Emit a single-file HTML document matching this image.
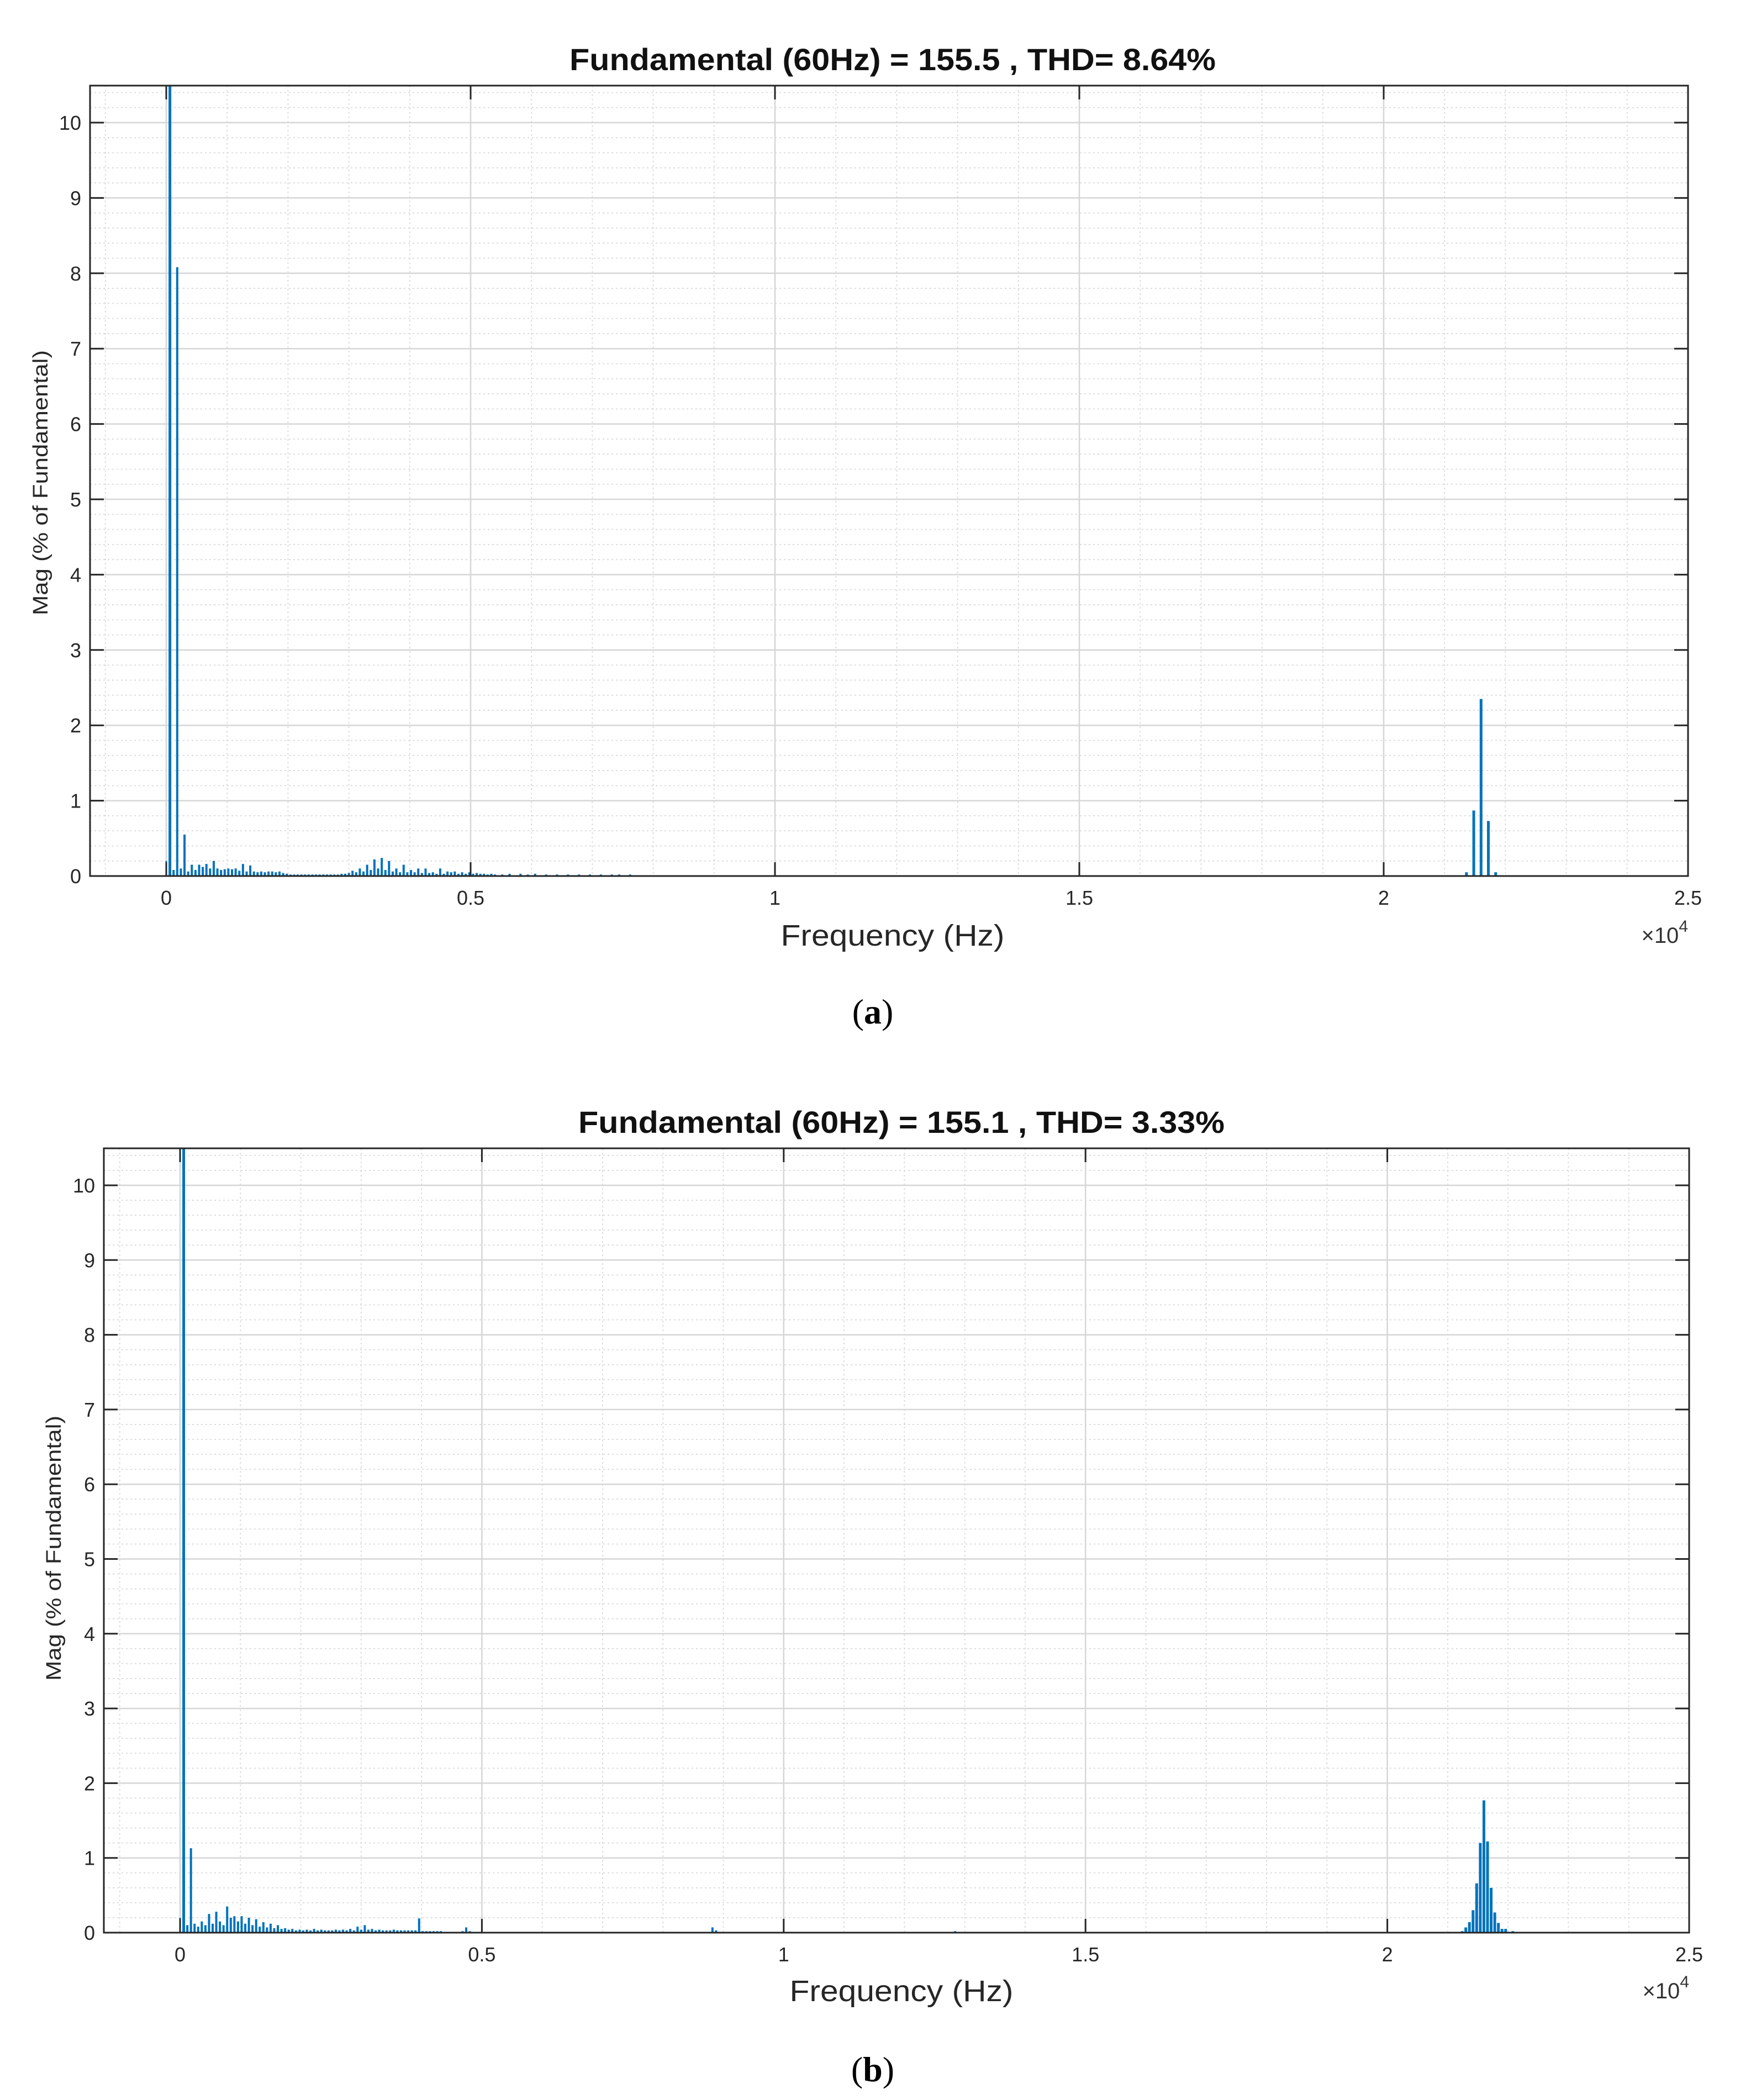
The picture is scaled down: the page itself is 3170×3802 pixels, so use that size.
<!DOCTYPE html>
<html><head><meta charset="utf-8"><style>
html,body{margin:0;padding:0;background:#fff;}
svg{display:block;}
text{font-family:"Liberation Sans",Arial,sans-serif;}
</style></head><body>
<svg id="fig" width="3170" height="3802" viewBox="0 0 3170 3802" xmlns="http://www.w3.org/2000/svg"></svg>
<script>
// ---- data: panel (a) ----
const harmonicMagsA = [100,0.08,8.08,0.1,0.55,0.06,0.15,0.08,0.15,0.12,0.16,0.1,0.2,0.1,0.08,0.09,0.1,0.09,0.1,0.07,0.16,0.06,0.14,0.06,0.05,0.06,0.05,0.06,0.06,0.05,0.06,0.04,0.03,
0.02,0.02,0.02,0.02,0.02,0.02,0.02,0.02,0.02,0.02,0.02,0.02,0.02,0.02,0.03,0.03,0.04,
0.07,0.05,0.1,0.06,0.15,0.08,0.22,0.1,0.24,0.08,0.2,0.06,0.1,0.05,0.15,0.05,0.08,0.05,0.1,0.04,0.1,0.04,0.05,0.03,0.1,0.03,0.06,0.05,0.06,0.03,0.05,0.03,0.05,0.03,0.04,0.03,0.03,0.02,0.03,0.02,
0.01,0.02,0.01,0.03,0.01,0.01,0.03,0.01,0.02,0.01,0.03,0.01,0.01,0.02,0.01,0.01,0.02,0.01,0.01,0.02,0.01,0.01,0.02,0.01,0.01,0.02,0.01,0.01,0.02,0.01,0.01,0.02,0.01,0.02,0.01,0.01,0.02,0.01,0.01,0.01,0.01,0.01,0.01,0.01,0.01];
const dcMagA = 0.2;
const sideFreqsA = [21360,21480,21600,21720,21840];
const sideMagsA = [0.05,0.87,2.35,0.73,0.05];
// ---- data: panel (b) ----
const harmonicMagsB = [100,0.1,1.13,0.12,0.08,0.15,0.1,0.25,0.12,0.28,0.15,0.1,0.35,0.2,0.22,0.15,0.22,0.12,0.2,0.1,0.18,0.08,0.14,0.07,0.12,0.06,0.1,0.05,0.06,0.04,0.05,0.03,0.04,0.03,0.04,0.03,0.05,0.03,0.04,0.03,0.03,0.03,0.04,0.03,0.04,0.03,0.05,0.03,0.08,0.04,0.1,0.04,0.05,0.03,0.04,0.03,0.03,0.03,0.04,0.03,0.03,0.03,0.03,0.03,0.03,0.19,0.02,0.02,0.02,0.02,0.02,0.02,0,0,0.01,0.01,0,0.02,0.07,0.02];
const dcMagB = 0.2;
const extraFreqsB = [8820,8880,12840];
const extraMagsB = [0.07,0.03,0.02];
const sideFreqsB = [21240,21300,21360,21420,21480,21540,21600,21660,21720,21780,21840,21900,21960,22080];
const sideMagsB = [0.02,0.07,0.14,0.3,0.66,1.2,1.77,1.22,0.6,0.27,0.13,0.05,0.05,0.02];
// ---- axis ticks ----
const xTickVals = [0,5000,10000,15000,20000,25000];
const xTickLabels = ["0","0.5","1","1.5","2","2.5"];
const yTickVals = [0,1,2,3,4,5,6,7,8,9,10];
const titleA = "Fundamental (60Hz) = 155.5 , THD= 8.64%";
const titleB = "Fundamental (60Hz) = 155.1 , THD= 3.33%";

const NS="http://www.w3.org/2000/svg";
const svg=document.getElementById('fig');
function mk(tag,attrs,parent){const e=document.createElementNS(NS,tag);for(const k in attrs)e.setAttribute(k,attrs[k]);(parent||svg).appendChild(e);return e;}

function panel(cfg){
  const g=mk('g',{});
  
  
  const {L,R,T,x0,zeroY,unit}=cfg;
  const pxPerHz=(R-x0)/25000;
  const X=f=>x0+f*pxPerHz;
  const yMax=(zeroY-T)/unit;
  const Y=v=>zeroY-Math.min(v,yMax)*unit;
  const B=zeroY;
  for(let f=-1000;f<=25000;f+=1000){ if(f%5000===0) continue; const x=X(f); if(x<=L) continue;
    const l=mk('line',{x1:x,x2:x,y1:T,y2:B,stroke:'#dcdcdc','stroke-width':2,'stroke-dasharray':'3 5'},g);
    
    }
  for(let k=1;k<=52;k++){ if(k%5===0) continue; const y=Y(k*0.2); if(y<=T) continue;
    const l=mk('line',{x1:L,x2:R,y1:y,y2:y,stroke:'#dcdcdc','stroke-width':2,'stroke-dasharray':'3 5'},g);
    
    }
  xTickVals.forEach(f=>{const x=X(f);
    const l=mk('line',{x1:x,x2:x,y1:T,y2:B,stroke:'#d6d6d6','stroke-width':2.5},g);
    
    });
  yTickVals.forEach(v=>{const y=Y(v);
    const l=mk('line',{x1:L,x2:R,y1:y,y2:y,stroke:'#d6d6d6','stroke-width':2.5},g);
    
    });
  const bars=mk('g',{stroke:'#0072BD','stroke-width':4},g);
  
  
  function bar(f,v,w){ if(v<=0) return; const x=X(f);
    const l=mk('line',{x1:x,x2:x,y1:B,y2:Y(v),'stroke-width':w||4},bars);
    
    }
  bar(0,cfg.dc,3);
  cfg.harm.forEach((v,i)=>bar((i+1)*60,v,i===0?5:4));
  (cfg.extraF||[]).forEach((f,i)=>bar(f,cfg.extraM[i]));
  cfg.sideF.forEach((f,i)=>bar(f,cfg.sideM[i],5));
  const box=mk('rect',{x:L,y:T,width:R-L,height:B-T,fill:'none',stroke:'#262626','stroke-width':3},g);
  
  
  xTickVals.forEach((f,i)=>{const x=X(f);
    mk('line',{x1:x,x2:x,y1:B,y2:B-25,stroke:'#262626','stroke-width':3},g);
    mk('line',{x1:x,x2:x,y1:T,y2:T+25,stroke:'#262626','stroke-width':3},g);
    const t=mk('text',{x:x,y:B+52,'text-anchor':'middle','font-size':36,fill:'#262626'},g);
    t.textContent=xTickLabels[i];
    
    });
  yTickVals.forEach(v=>{const y=Y(v);
    mk('line',{x1:L,x2:L+25,y1:y,y2:y,stroke:'#262626','stroke-width':3},g);
    mk('line',{x1:R,x2:R-25,y1:y,y2:y,stroke:'#262626','stroke-width':3},g);
    const t=mk('text',{x:L-16,y:y+13,'text-anchor':'end','font-size':36,fill:'#262626'},g);
    t.textContent=String(v);
    
    });
  const ti=mk('text',{x:cfg.titleX,y:cfg.titleY,'text-anchor':'middle','font-size':56,'font-weight':'bold',fill:'#111',textLength:1170,lengthAdjust:'spacingAndGlyphs'},g);
  ti.textContent=cfg.title;
  
  
  const xl=mk('text',{x:cfg.titleX,y:cfg.xlabY,'text-anchor':'middle','font-size':54,fill:'#262626',textLength:405,lengthAdjust:'spacingAndGlyphs'},g);
  xl.textContent='Frequency (Hz)';
  
  
  const ex=mk('text',{x:R,y:cfg.xlabY-5,'text-anchor':'end','font-size':40,fill:'#333'},g);
  ex.innerHTML='×10<tspan dy="-20" font-size="30">4</tspan>';
  
  
  const yl=mk('text',{x:0,y:0,'text-anchor':'middle','font-size':38,fill:'#262626',textLength:480,lengthAdjust:'spacingAndGlyphs',transform:`translate(${cfg.ylabX},${cfg.ylabY}) rotate(-90)`},g);
  yl.textContent='Mag (% of Fundamental)';
  
  
  const cap=mk('text',{x:1580,y:cfg.capY,'text-anchor':'middle','font-size':64,fill:'#000',style:'font-family:"Liberation Serif",serif'},g);
  cap.innerHTML='(<tspan font-weight="bold">'+cfg.cap+'</tspan>)';
  
  
}

panel({name:'panel-a',L:163,R:3056,T:155,x0:301,zeroY:1586,unit:136.4,dc:dcMagA,harm:harmonicMagsA,sideF:sideFreqsA,sideM:sideMagsA,
  title:titleA,titleX:1616,titleY:127,xlabY:1712,ylabX:86,ylabY:874,capY:1853,cap:'a'});
panel({name:'panel-b',L:188,R:3058,T:2079,x0:326,zeroY:3499,unit:135.3,dc:dcMagB,harm:harmonicMagsB,extraF:extraFreqsB,extraM:extraMagsB,sideF:sideFreqsB,sideM:sideMagsB,
  title:titleB,titleX:1632,titleY:2051,xlabY:3623,ylabX:110,ylabY:2803,capY:3768,cap:'b'});
</script>
</body></html>
